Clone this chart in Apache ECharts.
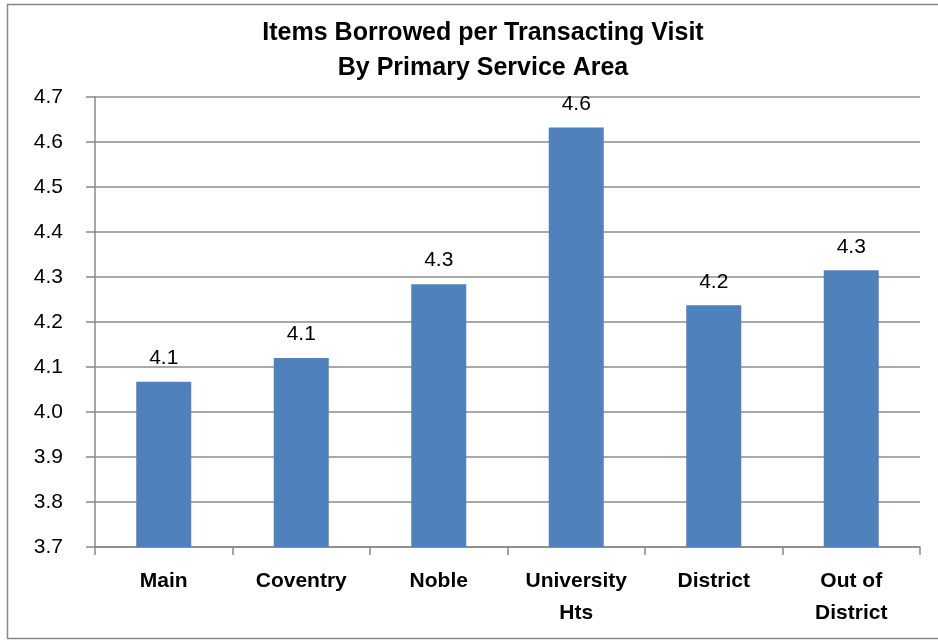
<!DOCTYPE html>
<html>
<head>
<meta charset="utf-8">
<script src="https://cdn.jsdelivr.net/npm/echarts@6/dist/echarts.min.js"></script>
<style>
  html, body { margin: 0; padding: 0; background: #fff; }
  #chart { width: 938px; height: 643px; }
</style>
</head>
<body>
<div id="chart"></div>
<script>
// data
var areas = ['Main', 'Coventry', 'Noble', 'University\nHts', 'District', 'Out of\nDistrict'];
var itemsPerVisit = [4.067, 4.12, 4.284, 4.632, 4.237, 4.315];

var font = "'Liberation Sans', sans-serif";

var myChart = echarts.init(document.getElementById('chart'));
var option = {
  animation: false,
  backgroundColor: '#fff',
  title: {
    text: 'Items Borrowed per Transacting Visit\nBy Primary Service Area',
    left: 478,
    top: 11,
    textAlign: 'center',
    textStyle: {
      fontFamily: font,
      fontSize: 25,
      fontWeight: 'bold',
      color: '#000',
      lineHeight: 35
    }
  },
  graphic: [{
    type: 'rect',
    shape: { x: 7.5, y: 4.5, width: 940, height: 634 },
    style: { fill: 'none', stroke: '#888', lineWidth: 1.5 },
    silent: true
  }],
  grid: { left: 95, right: 18, top: 97, bottom: 96 },
  xAxis: {
    type: 'category',
    data: areas,
    axisLine: { lineStyle: { color: '#888', width: 1.5 } },
    axisTick: { show: true, length: 8, lineStyle: { color: '#888', width: 1.5 } },
    axisLabel: {
      fontFamily: font,
      fontSize: 21,
      fontWeight: 'bold',
      color: '#000',
      margin: 18,
      lineHeight: 32
    }
  },
  yAxis: {
    type: 'value',
    min: 3.7,
    max: 4.7,
    interval: 0.1,
    axisLine: { show: true, lineStyle: { color: '#888', width: 1.5 } },
    axisTick: { show: true, length: 9, lineStyle: { color: '#888', width: 1.5 } },
    splitLine: { lineStyle: { color: '#8c8c8c', width: 1.5 } },
    axisLabel: {
      fontFamily: font,
      fontSize: 21,
      color: '#000',
      margin: 32,
      formatter: function (v) { return v.toFixed(1); }
    }
  },
  series: [{
    type: 'bar',
    data: itemsPerVisit,
    barWidth: '40%',
    itemStyle: { color: '#4f81bd' },
    label: {
      show: true,
      position: 'top',
      distance: 13,
      fontFamily: font,
      fontSize: 21,
      color: '#000',
      formatter: function (p) { return p.value.toFixed(1); }
    }
  }]
};
myChart.setOption(option);
</script>
</body>
</html>
